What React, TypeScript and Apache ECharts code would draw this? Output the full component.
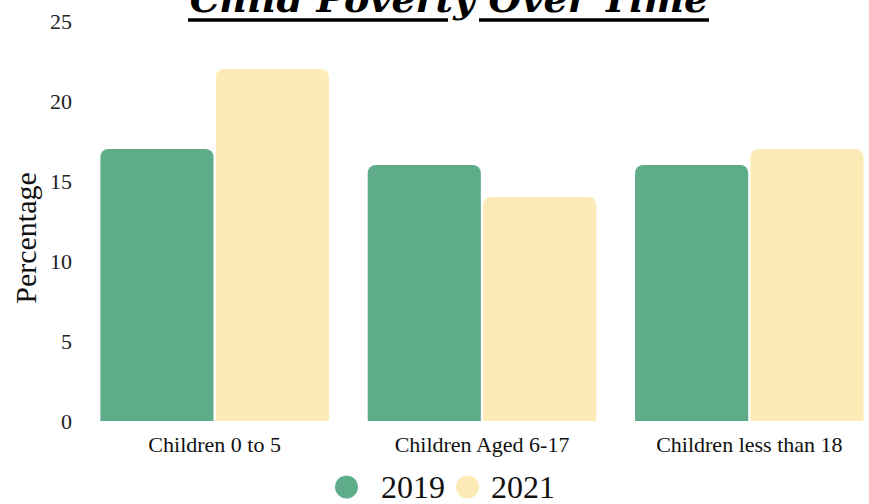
import React, { useEffect, useRef } from "react";
import * as echarts from "echarts";

const categories = ["Children 0 to 5", "Children Aged 6-17", "Children less than 18"];
const values2019 = [17, 16, 16];
const values2021 = [22, 14, 17];
const seriesNames = ["2019", "2021"];
const yTicks = { min: 0, max: 25, interval: 5 };

export default function App() {
  const ref = useRef<HTMLDivElement>(null);
  useEffect(() => {
    if (!ref.current) return;
    const chart = echarts.init(ref.current, undefined, { renderer: "svg" });
    const font = "Liberation Serif";
    const legendBase = {
      top: 466,
      icon: "circle",
      itemWidth: 23,
      itemHeight: 23,
    };
    chart.setOption({
      animation: false,
      backgroundColor: "#ffffff",
      textStyle: { fontFamily: font },
      grid: { left: 81, right: 2, top: 21, bottom: 83 },
      legend: [
        {
          ...legendBase,
          data: [seriesNames[0]],
          left: 330,
          textStyle: { fontFamily: font, fontSize: 32, color: "#111", padding: [0, 0, 0, 18] },
        },
        {
          ...legendBase,
          data: [seriesNames[1]],
          left: 451,
          textStyle: { fontFamily: font, fontSize: 32, color: "#111", padding: [0, 0, 0, 7] },
        },
      ],
      xAxis: {
        type: "category",
        data: categories,
        axisLine: { show: false },
        axisTick: { show: false },
        axisLabel: { fontFamily: font, fontSize: 22, color: "#111", margin: 12 },
      },
      yAxis: {
        type: "value",
        min: yTicks.min,
        max: yTicks.max,
        interval: yTicks.interval,
        splitLine: { show: false },
        axisLine: { show: false },
        axisTick: { show: false },
        axisLabel: { fontFamily: font, fontSize: 22, color: "#222", margin: 9 },
      },
      series: [
        {
          name: seriesNames[0],
          type: "bar",
          data: values2019,
          barGap: "2%",
          barCategoryGap: "14.5%",
          itemStyle: { color: "#5fac8b", borderRadius: [8, 8, 0, 0] },
        },
        {
          name: seriesNames[1],
          type: "bar",
          data: values2021,
          itemStyle: { color: "#fdebb7", borderRadius: [8, 8, 0, 0] },
        },
      ],
      graphic: [
        {
          type: "text",
          x: 449,
          y: -2,
          style: {
            text: "Child Poverty Over Time",
            align: "center",
            verticalAlign: "middle",
            font: "italic bold 38px 'DejaVu Serif'",
            fill: "#000",
          },
        },
        {
          type: "text",
          x: 25,
          y: 238,
          rotation: Math.PI / 2,
          style: {
            text: "Percentage",
            align: "center",
            verticalAlign: "middle",
            font: "30px 'Liberation Serif'",
            fill: "#111",
          },
        },
        { type: "line", shape: { x1: 188, y1: 20, x2: 448, y2: 20 }, style: { stroke: "#000", lineWidth: 3.5 } },
        { type: "line", shape: { x1: 479, y1: 20, x2: 709, y2: 20 }, style: { stroke: "#000", lineWidth: 3.5 } },
      ],
    });
    return () => chart.dispose();
  }, []);
  return (
    <div style={{ position: "absolute", left: 0, top: 0, width: 869, height: 504, overflow: "hidden" }}>
      <div ref={ref} style={{ width: 885, height: 504 }} />
    </div>
  );
}
